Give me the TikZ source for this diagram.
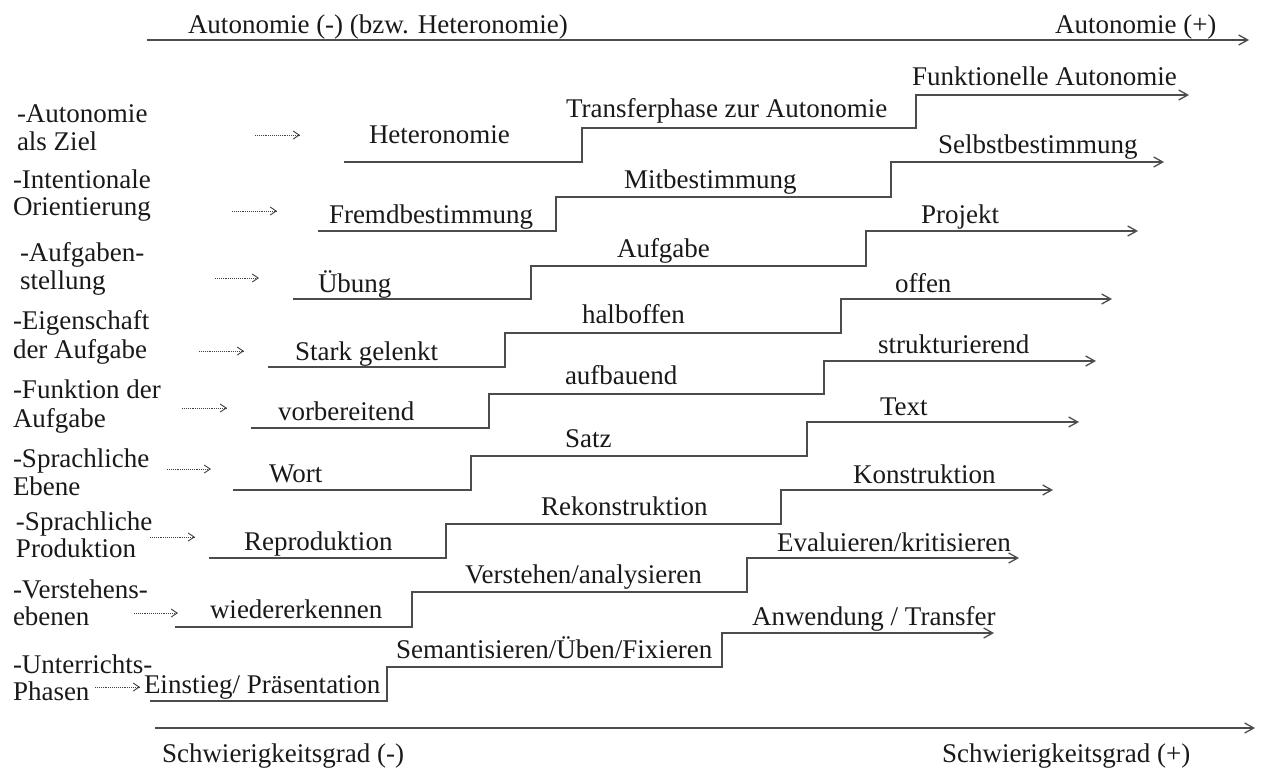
\documentclass[tikz,border=0pt]{standalone}
\usepackage{fontspec}
\setmainfont{Liberation Serif}
\usetikzlibrary{arrows.meta}
\begin{document}
\begin{tikzpicture}[x=1pt,y=-1pt,
  every node/.style={inner sep=0pt,outer sep=0pt,anchor=base west,
    font=\fontsize{27}{28}\selectfont,text=black!90},
  axis/.style={draw=black!70,line width=1.3pt,-{Straight Barb[length=9pt,width=10pt]}},
  stair/.style={draw=black!70,line width=1.3pt,-{Straight Barb[length=9pt,width=10pt]}},
  hint/.style={draw=black!75,line width=0.9pt,densely dotted,
    -{Straight Barb[length=6pt,width=8pt,line width=0.9pt]}}]
\useasboundingbox (0,0) rectangle (1264,769);

% autonomy axis (top)
\coordinate (autA) at (147,40);
\coordinate (autB) at (1249,40);
\draw[axis] (autA) -- (autB);
\node (autMinus) at (188,33) {Autonomie (-) (bzw. Heteronomie)};
\node (autPlus) at (1055,33) {Autonomie (+)};

% difficulty axis (bottom)
\coordinate (difA) at (155,728);
\coordinate (difB) at (1255,728);
\draw[axis] (difA) -- (difB);
\node (difMinus) at (162,762) {Schwierigkeitsgrad (-)};
\node (difPlus) at (942,762) {Schwierigkeitsgrad (+)};

% staircases: start x / first step x / second step x / end x / lower y / middle y / upper y
\foreach \r/\xs/\xa/\xb/\xe/\yl/\ym/\yu in {
  1/344/582/916/1189/162/128/95,
  2/318/556/891/1164/231/197/162,
  3/293/531/866/1138/299/266/231,
  4/268/505/841/1112/367/333/299,
  5/251/489/824/1096/428/394/361,
  6/233/471/807/1079/490/456/422,
  7/209/446/781/1053/558/524/490,
  8/175/412/747/1019/627/592/558,
  9/150/387/722/994/701/667/633}{
  \coordinate (s\r) at (\xs,\yl);
  \coordinate (a\r) at (\xa,\yl);
  \coordinate (b\r) at (\xa,\ym);
  \coordinate (c\r) at (\xb,\ym);
  \coordinate (d\r) at (\xb,\yu);
  \coordinate (e\r) at (\xe,\yu);
  \draw[stair] (s\r) -- (a\r) -- (b\r) -- (c\r) -- (d\r) -- (e\r);
}

% dotted pointers from the categories to the staircases
\foreach \r/\xa/\xb/\y in {
  1/255/300/135, 2/232/277/211, 3/215/259/278, 4/199/244/351,
  5/182/227/408, 6/167/211/469, 7/150/195/537, 8/134/178/613, 9/95/140/687}{
  \coordinate (p\r) at (\xa,\y);
  \coordinate (q\r) at (\xb,\y);
  \draw[hint] (p\r) -- (q\r);
}

% categories
\node (c1a) at (17,122) {-Autonomie};
\node (c1b) at (17,150) {als Ziel};
\node (c2a) at (13,188) {-Intentionale};
\node (c2b) at (13,215) {Orientierung};
\node (c3a) at (20,261) {-Aufgaben-};
\node (c3b) at (20,289) {stellung};
\node (c4a) at (13,329) {-Eigenschaft};
\node (c4b) at (13,358) {der Aufgabe};
\node (c5a) at (13,398) {-Funktion der};
\node (c5b) at (13,427) {Aufgabe};
\node (c6a) at (13,467) {-Sprachliche};
\node (c6b) at (13,495) {Ebene};
\node (c7a) at (16,530) {-Sprachliche};
\node (c7b) at (16,557) {Produktion};
\node (c8a) at (13,598) {-Verstehens-};
\node (c8b) at (13,625) {ebenen};
\node (c9a) at (13,673) {-Unterrichts-};
\node (c9b) at (13,700) {Phasen};

% stages
\node (t1a) at (369,143) {Heteronomie};
\node (t1b) at (566,117) {Transferphase zur Autonomie};
\node (t1c) at (912,85) {Funktionelle Autonomie};

\node (t2a) at (329,223) {Fremdbestimmung};
\node (t2b) at (624,188) {Mitbestimmung};
\node (t2c) at (938,153) {Selbstbestimmung};

\node (t3a) at (318,292) {Übung};
\node (t3b) at (617,257) {Aufgabe};
\node (t3c) at (921,223) {Projekt};

\node (t4a) at (295,360) {Stark gelenkt};
\node (t4b) at (582,323) {halboffen};
\node (t4c) at (895,292) {offen};

\node (t5a) at (278,420) {vorbereitend};
\node (t5b) at (565,384) {aufbauend};
\node (t5c) at (878,353) {strukturierend};

\node (t6a) at (269,482) {Wort};
\node (t6b) at (565,447) {Satz};
\node (t6c) at (880,415) {Text};

\node (t7a) at (244,550) {Reproduktion};
\node (t7b) at (541,515) {Rekonstruktion};
\node (t7c) at (853,483) {Konstruktion};

\node (t8a) at (210,618) {wiedererkennen};
\node (t8b) at (465,583) {Verstehen/analysieren};
\node (t8c) at (777,551) {Evaluieren/kritisieren};

\node (t9a) at (144,693) {Einstieg/ Präsentation};
\node (t9b) at (396,658) {Semantisieren/Üben/Fixieren};
\node (t9c) at (752,625) {Anwendung / Transfer};
\end{tikzpicture}
\end{document}
